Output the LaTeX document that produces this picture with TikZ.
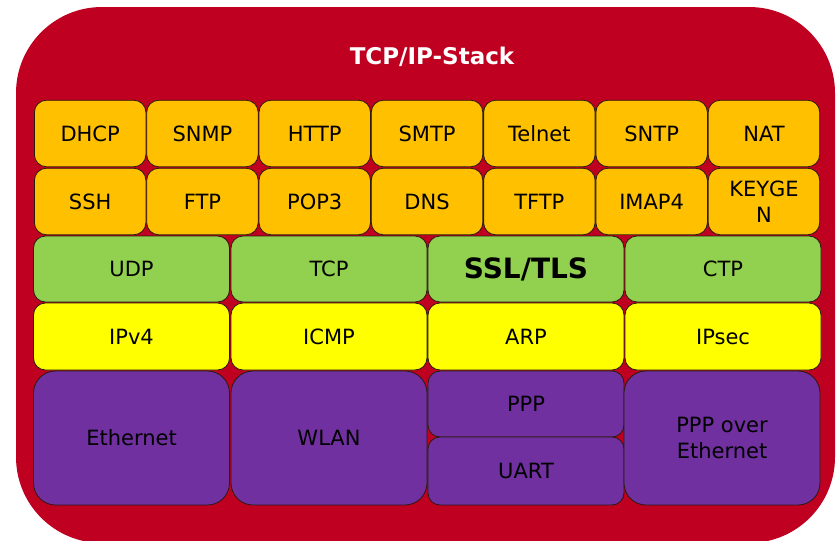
\documentclass[tikz,border=0pt]{standalone}
\usepackage{fontspec}
\setmainfont{DejaVu Sans}
\definecolor{stackred}{HTML}{C00020}
\definecolor{apporange}{HTML}{FFC000}
\definecolor{transgreen}{HTML}{92D050}
\definecolor{netyellow}{HTML}{FFFF00}
\definecolor{linkpurple}{HTML}{7030A0}
\definecolor{edgedark}{HTML}{2A1A10}
\begin{document}
\begin{tikzpicture}[x=1pt,y=-1pt,
  layerbox/.style={draw=edgedark, line width=0.8pt, rounded corners=12pt, inner sep=2pt,
    align=center, font=\fontsize{21}{25.5}\selectfont, text=black},
  appbox/.style={layerbox, fill=apporange, minimum width=111.5pt, minimum height=66.5pt},
  tbox/.style={layerbox, fill=transgreen, minimum width=196pt, minimum height=66pt},
  nbox/.style={layerbox, fill=netyellow, minimum width=196pt, minimum height=67pt},
  lbox/.style={layerbox, fill=linkpurple},
]
\useasboundingbox (0,0) rectangle (836,541);
\fill[stackred, rounded corners=86pt] (16,7) rectangle (835,543);
\node[text=white, font=\bfseries\fontsize{23}{27}\selectfont] (title) at (432,57) {TCP/IP-Stack};
% application rows
\foreach \t [count=\i] in {DHCP,SNMP,HTTP,SMTP,Telnet,SNTP,NAT}
  \node[appbox] (a\i) at ({34+112.3*(\i-0.5)},133.5) {\t};
\foreach \t [count=\i] in {SSH,FTP,POP3,DNS,TFTP,IMAP4,{KEYGE\\N}}
  \node[appbox] (b\i) at ({34+112.3*(\i-0.5)},201.5) {\t};
% transport
\node[tbox] (udp) at (131.5,269) {UDP};
\node[tbox] (tcp) at (329,269) {TCP};
\node[tbox, font=\bfseries\fontsize{28}{32}\selectfont] (ssl) at (526,269) {SSL/TLS};
\node[tbox] (ctp) at (723,269) {CTP};
% network
\node[nbox] (ipv4) at (131.5,336.5) {IPv4};
\node[nbox] (icmp) at (329,336.5) {ICMP};
\node[nbox] (arp) at (526,336.5) {ARP};
\node[nbox] (ipsec) at (723,336.5) {IPsec};
% link
\node[lbox, rounded corners=22pt, minimum width=196pt, minimum height=134pt] (eth) at (131.5,438) {Ethernet};
\node[lbox, rounded corners=22pt, minimum width=196pt, minimum height=134pt] (wlan) at (329,438) {WLAN};
\node[lbox, rounded corners=12pt, minimum width=196pt, minimum height=66pt] (ppp) at (526,404) {PPP};
\node[lbox, rounded corners=12pt, minimum width=196pt, minimum height=68pt] (uart) at (526,471) {UART};
\node[lbox, rounded corners=22pt, minimum width=196pt, minimum height=134pt] (pppoe) at (722,438) {PPP over\\Ethernet};
\end{tikzpicture}
\end{document}
